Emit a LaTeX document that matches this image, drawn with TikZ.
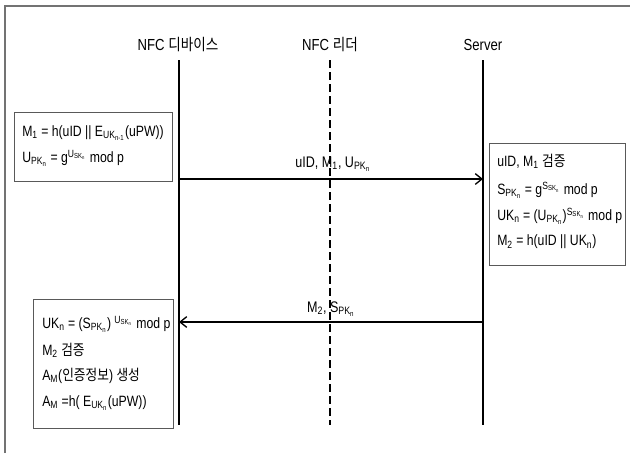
\documentclass[tikz,border=0pt]{standalone}
\usepackage{fontspec}
\setmainfont{Liberation Sans}[FakeStretch=0.82]
\newfontfamily\kr{Noto Sans CJK KR}[FakeStretch=0.85]
\usetikzlibrary{arrows.meta}
\newcommand{\subx}[1]{\textsubscript{#1}}
\newcommand{\supx}[1]{\textsuperscript{#1}}
\begin{document}
\begin{tikzpicture}[x=0.75pt,y=-0.75pt,
  txt/.style={inner sep=0pt,anchor=west,font=\fontsize{11.2}{13}\selectfont},
  head/.style={inner sep=0pt,font=\fontsize{12}{14}\selectfont},
  lbl/.style={inner sep=0pt,font=\fontsize{11.5}{14}\selectfont},
  life/.style={line width=1.6pt},
  msg/.style={line width=1.1pt,-{Straight Barb[length=5pt,width=8pt,line width=1pt]}},
  boxx/.style={draw=black!65,line width=0.7pt,fill=none}]
\useasboundingbox (0,0) rectangle (630,453);
% frame
\draw[black!55,line width=1.5pt] (5,453) -- (5,6) -- (630,6);
% headers
\node[head] (hdev) at (178,45) {NFC {\kr 디바이스}};
\node[head] (hrdr) at (330,45) {NFC {\kr 리더}};
\node[head] (hsrv) at (483,45) {Server};
% lifelines
\coordinate (dt) at (179,60); \coordinate (db) at (179,425);
\coordinate (rt) at (330,60); \coordinate (rb) at (330,425);
\coordinate (st) at (483,60); \coordinate (sb) at (483,425);
\draw[life] (dt) -- (db);
\draw[life,dash pattern=on 6pt off 3pt] (rt) -- (rb);
\draw[life] (st) -- (sb);
% boxes
\draw[boxx] (14,112) rectangle (172,181);
\draw[boxx] (489,143) rectangle (625,265);
\draw[boxx] (33,299) rectangle (173,428);
% box 1 text
\node[txt] (a1) at (22,133) {M\subx{1} = h(uID || E\subx{UK\subx{n-1}}(uPW))};
\node[txt] (a2) at (22,158) {U\subx{PK\subx{n}} = g\supx{U\subx{SK\subx{n}}} mod p};
% right box text
\node[txt] (b1) at (497,161) {uID, M\subx{1} {\kr 검증}};
\node[txt] (b2) at (497,190) {S\subx{PK\subx{n}} = g\supx{S\subx{SK\subx{n}}} mod p};
\node[txt] (b3) at (497,216) {UK\subx{n} = (U\subx{PK\subx{n}})\supx{S\subx{SK\subx{n}}} mod p};
\node[txt] (b4) at (497,242) {M\subx{2} = h(uID || UK\subx{n})};
% box 2 text
\node[txt] (c1) at (42,324) {UK\subx{n} = (S\subx{PK\subx{n}}) \supx{U\subx{SK\subx{n}}} mod p};
\node[txt] (c2) at (42,350) {M\subx{2} {\kr 검증}};
\node[txt] (c3) at (42,376) {A\subx{M}({\kr 인증정보}) {\kr 생성}};
\node[txt] (c4) at (42,403) {A\subx{M} =h( E\subx{UK\subx{n}}(uPW))};
% messages
\coordinate (m1s) at (179,179); \coordinate (m1e) at (483,179);
\coordinate (m2s) at (483,322); \coordinate (m2e) at (179,322);
\draw[msg] (m1s) -- (m1e);
\draw[msg] (m2s) -- (m2e);
\node[lbl] (l1) at (333,164) {uID, M\subx{1}, U\subx{PK\subx{n}}};
\node[lbl] (l2) at (331,309) {M\subx{2}, S\subx{PK\subx{n}}};
\end{tikzpicture}
\end{document}
